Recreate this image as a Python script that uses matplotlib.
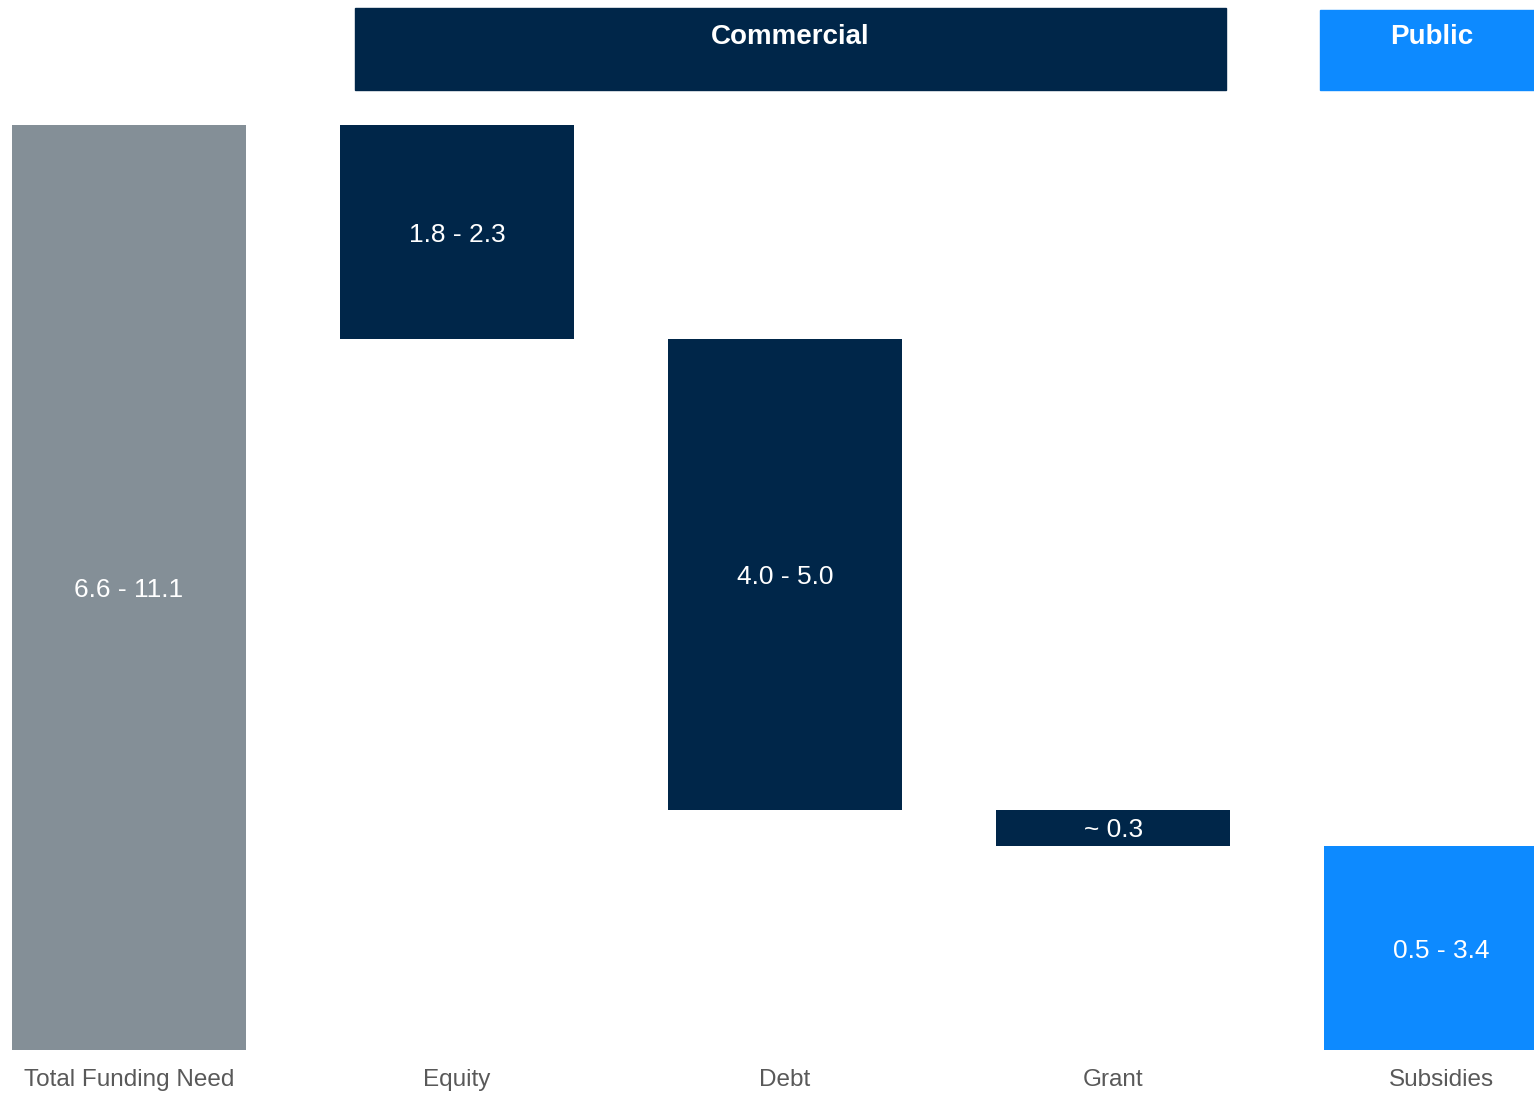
import matplotlib.pyplot as plt
from matplotlib.patches import Rectangle

plt.rcParams['font.family'] = ['Liberation Sans', 'DejaVu Sans']

categories = ["Total Funding Need", "Equity", "Debt", "Grant", "Subsidies"]
values = [8.85, 2.05, 4.5, 0.35, 1.95]
labels = ["6.6 - 11.1", "1.8 - 2.3", "4.0 - 5.0", "~ 0.3", "0.5 - 3.4"]

navy = "#002649"
grey = "#848F97"
blue = "#0D8AFF"
colors = [grey, navy, navy, navy, blue]

# waterfall: total stands on 0, parts step down from the top
bottoms = [0]
top = values[0]
for v in values[1:]:
    top -= v
    bottoms.append(top)

fig = plt.figure(figsize=(15.34, 10.95), dpi=100)
ax = fig.add_axes([0, 0, 1, 1])
x = list(range(len(categories)))
ax.bar(x, values, bottom=bottoms, width=0.713, color=colors)

for i in x:
    ax.text(i, bottoms[i] + values[i] / 2, labels[i], ha="center",
            va="center_baseline", color="white", fontsize=19)
    ax.text(i, -0.29, categories[i], ha="center", va="center",
            color="#595959", fontsize=17.5)

# group headers
ax.add_patch(Rectangle((0.689, 9.185), 3.345 - 0.689, 0.784, color=navy))
ax.text((0.689 + 3.345) / 2, 9.69, "Commercial", ha="center", va="center",
        color="white", fontsize=20, fontweight="bold")
ax.add_patch(Rectangle((3.631, 9.185), 1.0, 0.765, color=blue))
ax.text(3.97, 9.69, "Public", ha="center", va="center",
        color="white", fontsize=20, fontweight="bold")

ax.set_xlim(-0.393, 4.283)
ax.set_ylim(-0.4305, 10.046)
ax.axis("off")

fig.savefig("out.png", dpi=100)
